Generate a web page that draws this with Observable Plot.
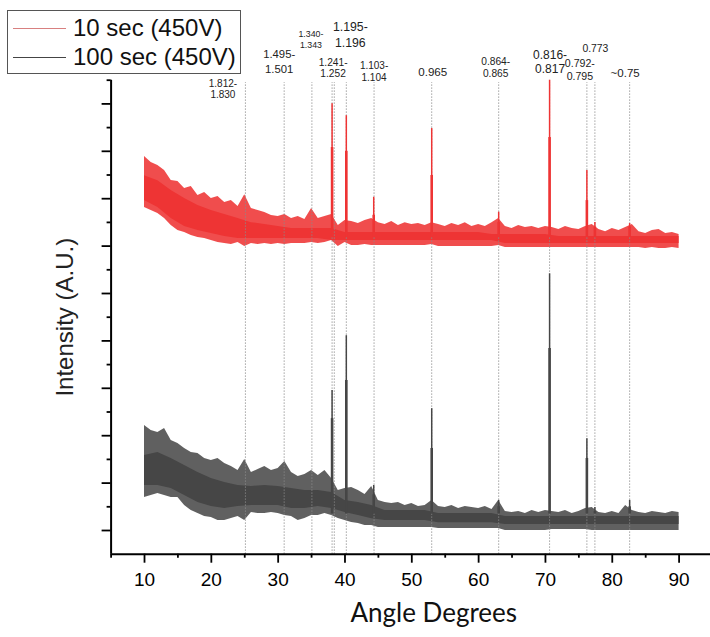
<!DOCTYPE html>
<html><head><meta charset="utf-8">
<script src="https://cdn.jsdelivr.net/npm/d3@7"></script>
<script src="https://cdn.jsdelivr.net/npm/@observablehq/plot@0.6"></script>
<style>
body{margin:0;background:#fff;}
#wrap{position:relative;width:710px;height:637px;}
#legend{position:absolute;left:7px;top:10px;width:232px;height:62px;border:1px solid #555;background:#fff;font-family:"Liberation Sans",Arial,sans-serif;font-size:24px;color:#111;}
.row{position:absolute;left:0;height:28px;width:100%;}
.swatch{position:absolute;left:5px;width:53px;top:14px;border-top:1px solid;}
.lab{position:absolute;left:65px;top:14px;transform:translateY(-50%);white-space:nowrap;line-height:1;}
</style></head><body>
<div id="wrap"><div id="chart"></div><div id="legend"></div></div>
<script>
// ---------- data ----------
const seriesNames = ["10 sec (450V)", "100 sec (450V)"];
const seriesColors = ["#ee3434", "#464646"];
const legendLineColors = ["#d88080", "#444444"];

// grid of angles for the outer noise envelope (degrees 2θ)
const gridAngles = [10,11,12,13,14,15,16,17,18,19,20,21,22,23,24,25,26,27,28,29,30,31,32,33,34,35,36,37,38,39,40,41,42,43,44,45,46,47,48,49,50,51,52,53,54,55,56,57,58,59,60,61,62,63,64,65,66,67,68,69,70,71,72,73,74,75,76,77,78,79,80,81,82,83,84,85,86,87,88,89,90];

// 10 sec trace: spike tips above / below the band (A.U.)
const redHi = [16.78,16.53,16.40,16.19,15.77,15.73,15.43,15.51,15.13,15.26,15.01,15.09,14.84,14.92,14.67,15.17,14.59,14.50,14.42,14.29,14.25,14.33,14.16,14.25,14.12,14.59,14.16,14.25,14.33,13.87,14.08,14.04,13.95,14.08,14.16,13.99,13.91,14.04,13.87,13.99,13.91,13.95,13.87,13.99,13.91,13.83,13.95,13.87,13.99,13.83,13.91,13.83,13.99,14.16,13.83,13.74,13.87,13.78,13.83,13.74,13.83,13.78,13.70,13.83,13.74,13.70,13.83,13.91,13.70,13.61,13.74,13.66,13.78,13.91,13.61,13.53,13.66,13.70,13.53,13.57,13.49];
const redLo = [14.63,14.50,14.38,14.16,13.87,13.66,13.57,13.45,13.36,13.32,13.24,13.15,13.11,13.07,13.15,12.98,13.11,13.07,13.11,13.07,13.11,13.07,13.11,13.11,13.11,13.15,13.11,13.15,13.24,12.98,13.15,13.03,13.03,13.07,13.03,13.03,13.03,13.03,13.03,13.03,13.03,13.03,13.03,13.07,12.98,12.98,12.98,12.98,12.98,12.98,12.98,12.98,12.98,13.03,12.94,12.94,12.94,12.94,12.94,12.94,12.94,12.94,12.94,12.94,12.94,12.94,12.94,12.94,12.94,12.94,12.94,12.94,12.94,12.94,12.94,12.90,12.94,12.90,12.90,12.94,12.90];

// 100 sec trace: spike tips above / below the band (A.U.)
const grayHi = [5.43,5.22,5.14,5.30,4.80,4.67,4.46,4.29,4.25,4.04,3.95,4.04,3.83,3.70,3.53,4.00,3.45,3.57,3.70,3.53,3.62,3.91,3.45,3.28,3.36,3.53,3.32,3.53,3.19,2.69,2.77,2.81,2.69,2.52,2.86,2.27,2.18,2.14,2.18,2.05,2.14,2.01,2.05,2.27,2.01,1.97,2.05,1.93,2.01,1.97,1.93,2.01,1.89,2.27,1.80,1.76,1.80,1.72,1.84,1.76,1.84,1.80,1.76,1.84,1.72,1.80,1.93,1.97,1.76,1.72,1.80,1.72,2.05,1.84,1.76,1.72,1.80,1.76,1.72,1.80,1.76];
const grayLo = [2.39,2.48,2.56,2.48,2.39,2.39,2.05,1.84,1.72,1.59,1.55,1.42,1.42,1.51,1.59,1.42,1.76,1.72,1.72,1.76,1.72,1.63,1.59,1.42,1.51,1.63,1.63,1.72,1.63,1.51,1.42,1.34,1.30,1.21,1.21,1.13,1.13,1.13,1.13,1.13,1.13,1.13,1.13,1.13,1.08,1.08,1.08,1.08,1.08,1.08,1.08,1.08,1.08,1.08,1.00,1.00,1.00,1.00,1.00,1.00,1.00,1.04,1.04,1.04,1.04,1.04,1.04,1.00,1.00,1.00,1.00,1.00,1.00,1.00,1.00,1.00,1.00,1.00,1.00,1.00,1.00];

// dense core of each noise band, every 2 degrees
const coreAngles = [10,12,14,16,18,20,22,24,26,28,30,32,34,36,38,40,42,44,46,48,50,52,54,56,58,60,62,64,66,68,70,72,74,76,78,80,82,84,86,88,90];
const redCoreHi = [15.97,15.76,15.35,15.01,14.71,14.50,14.33,14.16,13.99,13.91,13.83,13.74,13.74,13.74,13.74,13.57,13.57,13.57,13.57,13.57,13.57,13.57,13.57,13.57,13.57,13.57,13.49,13.49,13.49,13.49,13.49,13.41,13.41,13.41,13.41,13.41,13.41,13.41,13.41,13.41,13.41];
const redCoreLo = [14.92,14.63,14.16,13.83,13.66,13.53,13.41,13.32,13.32,13.32,13.32,13.32,13.32,13.32,13.24,13.24,13.24,13.24,13.24,13.24,13.24,13.24,13.24,13.24,13.24,13.24,13.24,13.11,13.11,13.11,13.11,13.11,13.11,13.11,13.11,13.11,13.11,13.11,13.11,13.11,13.11];
const grayCoreHi = [4.16,4.29,4.04,3.74,3.45,3.19,3.03,2.90,2.86,2.90,2.86,2.77,2.69,2.69,2.60,2.27,2.18,2.05,1.84,1.84,1.84,1.84,1.72,1.72,1.72,1.72,1.72,1.59,1.59,1.59,1.59,1.59,1.59,1.59,1.59,1.59,1.59,1.59,1.59,1.59,1.59];
const grayCoreLo = [2.90,2.90,2.77,2.48,2.18,2.01,1.93,2.01,2.05,2.05,2.05,1.93,1.93,2.01,1.93,1.76,1.63,1.50,1.42,1.42,1.42,1.42,1.33,1.33,1.33,1.33,1.33,1.25,1.25,1.25,1.25,1.25,1.25,1.25,1.25,1.25,1.25,1.25,1.25,1.25,1.25];

// diffraction peaks
const peakAngles = [38.07, 40.2, 44.3, 52.98, 63.0, 70.62, 76.2, 77.4, 82.6];
const redPeakTop = [19.01, 18.5, 15.06, 17.96, 14.43, 20.0, 16.19, 14.0, 13.95];
const redPeakShoulder = [17.16, 17.0, 14.3, 15.98, 14.0, 17.58, 14.92, 13.8, 13.8];
const grayPeakTop = [6.91, 9.22, 2.90, 6.14, 2.27, 11.83, 4.87, 1.97, 2.27];
const grayPeakShoulder = [5.72, 7.33, 2.5, 4.46, 2.0, 8.68, 4.04, 1.8, 2.0];
const redFoot = 13.4, grayFoot = 1.7;

// reference (d-spacing) lines and labels
const refAngles = [25.1, 30.9, 35.05, 38.07, 38.4, 40.2, 44.35, 52.98, 63.0, 70.62, 76.2, 77.4, 82.6];
const labelAngles = [25.1, 30.9, 35.05, 38.07, 40.2, 44.35, 52.98, 63.0, 70.62, 76.2, 77.4, 82.6];
const labelTexts = ["1.812-\n1.830","1.495-\n1.501","1.340-\n1.343","1.241-\n1.252","1.195-\n1.196","1.103-\n1.104","0.965","0.864-\n0.865","0.816-\n0.817","0.792-\n0.795","0.773","~0.75"];

// axis ticks
const xMajor = [10,20,30,40,50,60,70,80,90];
const xMinor = [5,15,25,35,45,55,65,75,85];
const yMajor = [1,3,5,7,9,11,13,15,17,19];
const yMinor = [2,4,6,8,10,12,14,16,18,20];

// ---------- layout (not data) ----------
const labelLayout = [
  {dx:-22.5, y:19.63, fs:10,   lh:1.1},
  {dx:-5,    y:20.81, fs:11.3, lh:1.3},
  {dx:-1,    y:21.74, fs:8.8,  lh:1.25},
  {dx:1,     y:20.51, fs:10.2, lh:1.1},
  {dx:4,     y:21.97, fs:12.3, lh:1.3},
  {dx:0,     y:20.37, fs:10,   lh:1.2},
  {dx:1,     y:20.37, fs:11.6, lh:1.2},
  {dx:-3,    y:20.54, fs:10.2, lh:1.2},
  {dx:0.5,   y:20.79, fs:12,   lh:1.2},
  {dx:-7,    y:20.47, fs:10.6, lh:1.25},
  {dx:0.5,   y:21.34, fs:10.4, lh:1.2},
  {dx:-4.5,  y:20.32, fs:11.5, lh:1.2}
];

const rows = (xs, lo, hi) => xs.map((a,i)=>({angle:a, lo:lo[i], hi:hi[i]}));
const redRows = rows(gridAngles, redLo, redHi);
const grayRows = rows(gridAngles, grayLo, grayHi);
const redCore = rows(coreAngles, redCoreLo, redCoreHi);
const grayCore = rows(coreAngles, grayCoreLo, grayCoreHi);
const redPeaks = peakAngles.map((a,i)=>({angle:a, top:redPeakTop[i], sh:redPeakShoulder[i]}));
const grayPeaks = peakAngles.map((a,i)=>({angle:a, top:grayPeakTop[i], sh:grayPeakShoulder[i]}));

const font = "'Liberation Sans', Arial, sans-serif";

const labelMarks = labelTexts.map((t,i)=>Plot.text([{angle:labelAngles[i], y:labelLayout[i].y, t}], {
  x:"angle", y:"y", text:"t", dx:labelLayout[i].dx, fontSize:labelLayout[i].fs,
  lineHeight:labelLayout[i].lh, lineAnchor:"middle", textAnchor:"middle", fill:"#222", fontFamily:font
}));

const chart = Plot.plot({
  width: 710,
  height: 637,
  marginLeft: 110.6,
  marginRight: 0,
  marginTop: 79.7,
  marginBottom: 83.3,
  style: {fontFamily: font, background: "#fff", color: "#000"},
  x: {domain: [5, 94.7]},
  y: {domain: [0, 20]},
  marks: [
    // outer fringe of the noise (spike tips)
    Plot.areaY(redRows, {x:"angle", y1:"lo", y2:"hi", fill:seriesColors[0], fillOpacity:0.88}),
    Plot.areaY(grayRows, {x:"angle", y1:"lo", y2:"hi", fill:seriesColors[1], fillOpacity:0.86}),
    // dense core of the noise
    Plot.areaY(redCore, {x:"angle", y1:"lo", y2:"hi", fill:seriesColors[0]}),
    Plot.areaY(grayCore, {x:"angle", y1:"lo", y2:"hi", fill:seriesColors[1]}),
    // reference lines
    Plot.ruleX(refAngles, {y1:0, y2:19.9, stroke:"#8a8a8a", strokeWidth:1, strokeDasharray:"1.2,1.8"}),
    // peaks
    Plot.ruleX(redPeaks, {x:"angle", y1:redFoot, y2:"sh", stroke:seriesColors[0], strokeWidth:2.6}),
    Plot.ruleX(redPeaks, {x:"angle", y1:redFoot, y2:"top", stroke:seriesColors[0], strokeWidth:1.5}),
    Plot.ruleX(grayPeaks, {x:"angle", y1:grayFoot, y2:"sh", stroke:seriesColors[1], strokeWidth:2.6}),
    Plot.ruleX(grayPeaks, {x:"angle", y1:grayFoot, y2:"top", stroke:seriesColors[1], strokeWidth:1.5}),
    ...labelMarks,
    Plot.axisX({ticks:xMajor, tickSize:9, tickPadding:9.5, fontSize:19, label:null, strokeWidth:1.8, fontFamily:font}),
    Plot.axisX({ticks:xMinor, tickSize:4, tickFormat:()=>"", label:null, strokeWidth:1.8}),
    Plot.axisY({ticks:yMajor, tickSize:9, tickFormat:()=>"", label:null, strokeWidth:1.8}),
    Plot.axisY({ticks:yMinor, tickSize:4, tickFormat:()=>"", label:null, strokeWidth:1.8}),
    Plot.ruleY([0], {stroke:"#000", strokeWidth:2}),
    Plot.ruleX([5], {stroke:"#000", strokeWidth:2}),
    Plot.text(["Intensity (A.U.)"], {frameAnchor:"left", dx:-45.6, rotate:-90, textAnchor:"middle", fontSize:24, fill:"#222", fontFamily:font}),
    Plot.text(["Angle Degrees"], {frameAnchor:"bottom", dx:23, dy:68, textAnchor:"middle", fontSize:26, fill:"#111", fontFamily:"Lato, 'Open Sans', sans-serif"})
  ]
});
document.getElementById("chart").appendChild(chart);

// legend overlay
const legend = document.getElementById("legend");
const rowCenters = [17, 45.7];
seriesNames.forEach((name,i)=>{
  const row = document.createElement("div");
  row.className = "row";
  row.style.top = (rowCenters[i]-14) + "px";
  const sw = document.createElement("div");
  sw.className = "swatch";
  sw.style.borderTopColor = legendLineColors[i];
  const lab = document.createElement("div");
  lab.className = "lab";
  lab.textContent = name;
  row.appendChild(sw); row.appendChild(lab);
  legend.appendChild(row);
});
</script></body></html>
